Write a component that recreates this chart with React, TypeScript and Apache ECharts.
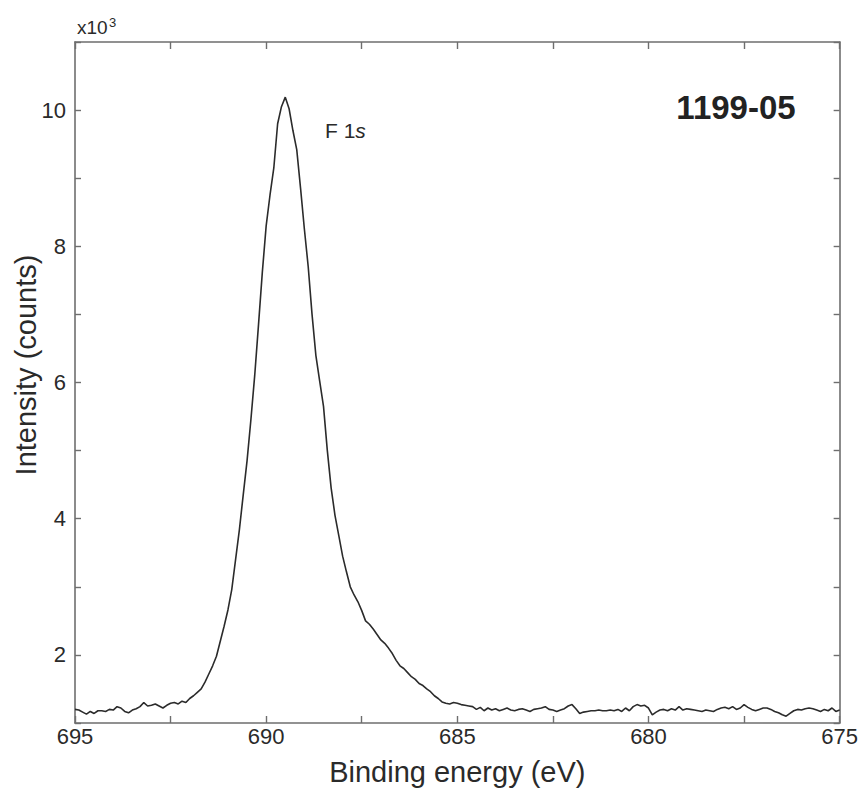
import React, { useEffect, useRef } from "react";
import * as echarts from "echarts";

// F 1s spectrum: [binding energy (eV), intensity (x10^3 counts)]
const spectrum: [number, number][] = [
  [695.0, 1.20], [694.9, 1.19], [694.8, 1.16], [694.7, 1.13], [694.6, 1.17], [694.5, 1.14],
  [694.4, 1.18], [694.3, 1.18], [694.2, 1.17], [694.1, 1.20], [694.0, 1.19], [693.9, 1.24],
  [693.8, 1.22], [693.7, 1.17], [693.6, 1.15], [693.5, 1.19], [693.4, 1.21], [693.3, 1.24],
  [693.2, 1.30], [693.1, 1.25], [693.0, 1.26], [692.9, 1.28], [692.8, 1.25], [692.7, 1.22],
  [692.6, 1.26], [692.5, 1.29], [692.4, 1.30], [692.3, 1.28], [692.2, 1.32], [692.1, 1.30],
  [692.0, 1.36], [691.9, 1.40], [691.8, 1.45], [691.7, 1.50], [691.6, 1.60], [691.5, 1.72],
  [691.4, 1.84], [691.3, 1.98], [691.2, 2.20], [691.1, 2.42], [691.0, 2.66], [690.9, 2.96],
  [690.8, 3.40], [690.7, 3.84], [690.6, 4.35], [690.5, 4.85], [690.4, 5.45], [690.3, 6.10],
  [690.2, 6.85], [690.1, 7.62], [690.0, 8.30], [689.9, 8.75], [689.8, 9.15], [689.7, 9.80],
  [689.6, 10.05], [689.5, 10.19], [689.4, 10.02], [689.3, 9.70], [689.2, 9.42], [689.1, 8.85],
  [689.0, 8.25], [688.9, 7.70], [688.8, 7.00], [688.7, 6.40], [688.6, 6.02], [688.5, 5.65],
  [688.4, 5.00], [688.3, 4.45], [688.2, 4.05], [688.1, 3.75], [688.0, 3.45], [687.9, 3.22],
  [687.8, 3.00], [687.7, 2.88], [687.6, 2.78], [687.5, 2.65], [687.4, 2.50], [687.3, 2.45],
  [687.2, 2.38], [687.1, 2.30], [687.0, 2.22], [686.9, 2.17], [686.8, 2.10], [686.7, 2.02],
  [686.6, 1.92], [686.5, 1.84], [686.4, 1.80], [686.3, 1.74], [686.2, 1.68], [686.1, 1.64],
  [686.0, 1.58], [685.9, 1.55], [685.8, 1.50], [685.7, 1.46], [685.6, 1.40], [685.5, 1.36],
  [685.4, 1.31], [685.3, 1.29], [685.2, 1.28], [685.1, 1.30], [685.0, 1.29], [684.9, 1.27],
  [684.8, 1.26], [684.7, 1.25], [684.6, 1.24], [684.5, 1.20], [684.4, 1.23], [684.3, 1.18],
  [684.2, 1.22], [684.1, 1.19], [684.0, 1.21], [683.9, 1.18], [683.8, 1.20], [683.7, 1.22],
  [683.6, 1.19], [683.5, 1.18], [683.4, 1.20], [683.3, 1.21], [683.2, 1.19], [683.1, 1.17],
  [683.0, 1.20], [682.9, 1.21], [682.8, 1.22], [682.7, 1.24], [682.6, 1.20], [682.5, 1.19],
  [682.4, 1.17], [682.3, 1.19], [682.2, 1.21], [682.1, 1.25], [682.0, 1.27], [681.9, 1.21],
  [681.8, 1.14], [681.7, 1.16], [681.6, 1.17], [681.5, 1.18], [681.4, 1.18], [681.3, 1.19],
  [681.2, 1.18], [681.1, 1.18], [681.0, 1.19], [680.9, 1.18], [680.8, 1.20], [680.7, 1.17],
  [680.6, 1.22], [680.5, 1.18], [680.4, 1.24], [680.3, 1.27], [680.2, 1.25], [680.1, 1.26],
  [680.0, 1.22], [679.9, 1.12], [679.8, 1.16], [679.7, 1.19], [679.6, 1.20], [679.5, 1.18],
  [679.4, 1.21], [679.3, 1.19], [679.2, 1.24], [679.1, 1.19], [679.0, 1.21], [678.9, 1.20],
  [678.8, 1.19], [678.7, 1.18], [678.6, 1.17], [678.5, 1.19], [678.4, 1.18], [678.3, 1.17],
  [678.2, 1.20], [678.1, 1.22], [678.0, 1.23], [677.9, 1.21], [677.8, 1.24], [677.7, 1.20],
  [677.6, 1.22], [677.5, 1.27], [677.4, 1.23], [677.3, 1.20], [677.2, 1.18], [677.1, 1.20],
  [677.0, 1.22], [676.9, 1.22], [676.8, 1.20], [676.7, 1.17], [676.6, 1.15], [676.5, 1.12],
  [676.4, 1.10], [676.3, 1.14], [676.2, 1.18], [676.1, 1.20], [676.0, 1.19], [675.9, 1.21],
  [675.8, 1.22], [675.7, 1.21], [675.6, 1.19], [675.5, 1.17], [675.4, 1.20], [675.3, 1.18],
  [675.2, 1.22], [675.1, 1.17], [675.0, 1.19],
];

const xLabels = [695, 690, 685, 680, 675];
const yLabels = [2, 4, 6, 8, 10];

const FONT = "'Liberation Sans', Arial, sans-serif";
const AXIS_COLOR = "#6e6e6e";
const TEXT_COLOR = "#2a2a2a";

export default function App() {
  const ref = useRef<HTMLDivElement>(null);

  useEffect(() => {
    if (!ref.current) return;
    const chart = echarts.init(ref.current, undefined, { renderer: "svg" });

    const axisLine = { show: true, onZero: false, lineStyle: { color: AXIS_COLOR, width: 1.6 } };
    const axisTick = { show: true, inside: true, length: 7, lineStyle: { color: AXIS_COLOR, width: 1.4 } };
    const yTick = { show: true, inside: true, length: 6, lineStyle: { color: AXIS_COLOR, width: 1.4 } };

    chart.setOption({
      animation: false,
      backgroundColor: "#ffffff",
      grid: { left: 75, right: 19, top: 42, bottom: 67, containLabel: false },
      xAxis: [
        {
          type: "value",
          inverse: true,
          min: 675,
          max: 695,
          interval: 2.5,
          axisLine,
          axisTick,
          splitLine: { show: false },
          axisLabel: {
            margin: 2,
            fontSize: 22,
            fontFamily: FONT,
            color: TEXT_COLOR,
            formatter: (v: number) => (xLabels.includes(v) ? String(v) : ""),
          },
          name: "Binding energy (eV)",
          nameLocation: "middle",
          nameGap: 34,
          nameTextStyle: { fontSize: 29, fontFamily: FONT, color: TEXT_COLOR },
        },
        {
          type: "value",
          position: "top",
          inverse: true,
          min: 675,
          max: 695,
          interval: 2.5,
          axisLine,
          axisTick,
          splitLine: { show: false },
          axisLabel: { show: false },
        },
      ],
      yAxis: [
        {
          type: "value",
          min: 1,
          max: 11,
          interval: 1,
          axisLine,
          axisTick: yTick,
          splitLine: { show: false },
          axisLabel: {
            margin: 9,
            fontSize: 22,
            fontFamily: FONT,
            color: TEXT_COLOR,
            formatter: (v: number) => (yLabels.includes(v) ? String(v) : ""),
          },
        },
        {
          type: "value",
          position: "right",
          min: 1,
          max: 11,
          interval: 1,
          axisLine,
          axisTick: yTick,
          splitLine: { show: false },
          axisLabel: { show: false },
        },
      ],
      series: [
        {
          type: "line",
          xAxisIndex: 0,
          yAxisIndex: 0,
          data: spectrum,
          showSymbol: false,
          symbol: "none",
          smooth: false,
          lineStyle: { color: "#2b2b2b", width: 1.6 },
        },
      ],
      graphic: [
        {
          type: "text",
          x: 26,
          y: 365,
          rotation: Math.PI / 2,
          style: {
            text: "Intensity (counts)",
            font: `29px ${FONT}`,
            fill: TEXT_COLOR,
            align: "center",
            verticalAlign: "middle",
          },
        },
        {
          type: "text",
          x: 77,
          y: 37,
          style: {
            text: "x10",
            font: `19px ${FONT}`,
            fill: TEXT_COLOR,
            align: "left",
            verticalAlign: "bottom",
          },
        },
        {
          type: "text",
          x: 109,
          y: 29,
          style: {
            text: "3",
            font: `13px ${FONT}`,
            fill: TEXT_COLOR,
            align: "left",
            verticalAlign: "bottom",
          },
        },
        {
          type: "text",
          x: 325,
          y: 130,
          style: {
            text: "F 1{it|s}",
            font: `21px ${FONT}`,
            fill: TEXT_COLOR,
            align: "left",
            verticalAlign: "middle",
            rich: { it: { fontStyle: "italic", fontSize: 21, fontFamily: FONT, fill: TEXT_COLOR } },
          },
        },
        {
          type: "text",
          x: 736,
          y: 107,
          style: {
            text: "1199-05",
            font: `bold 33px ${FONT}`,
            fill: "#222222",
            align: "center",
            verticalAlign: "middle",
          },
        },
      ],
    });

    return () => chart.dispose();
  }, []);

  return (
    <div
      ref={ref}
      style={{ position: "absolute", left: 0, top: 0, width: 861, height: 791, background: "#fff" }}
    />
  );
}
